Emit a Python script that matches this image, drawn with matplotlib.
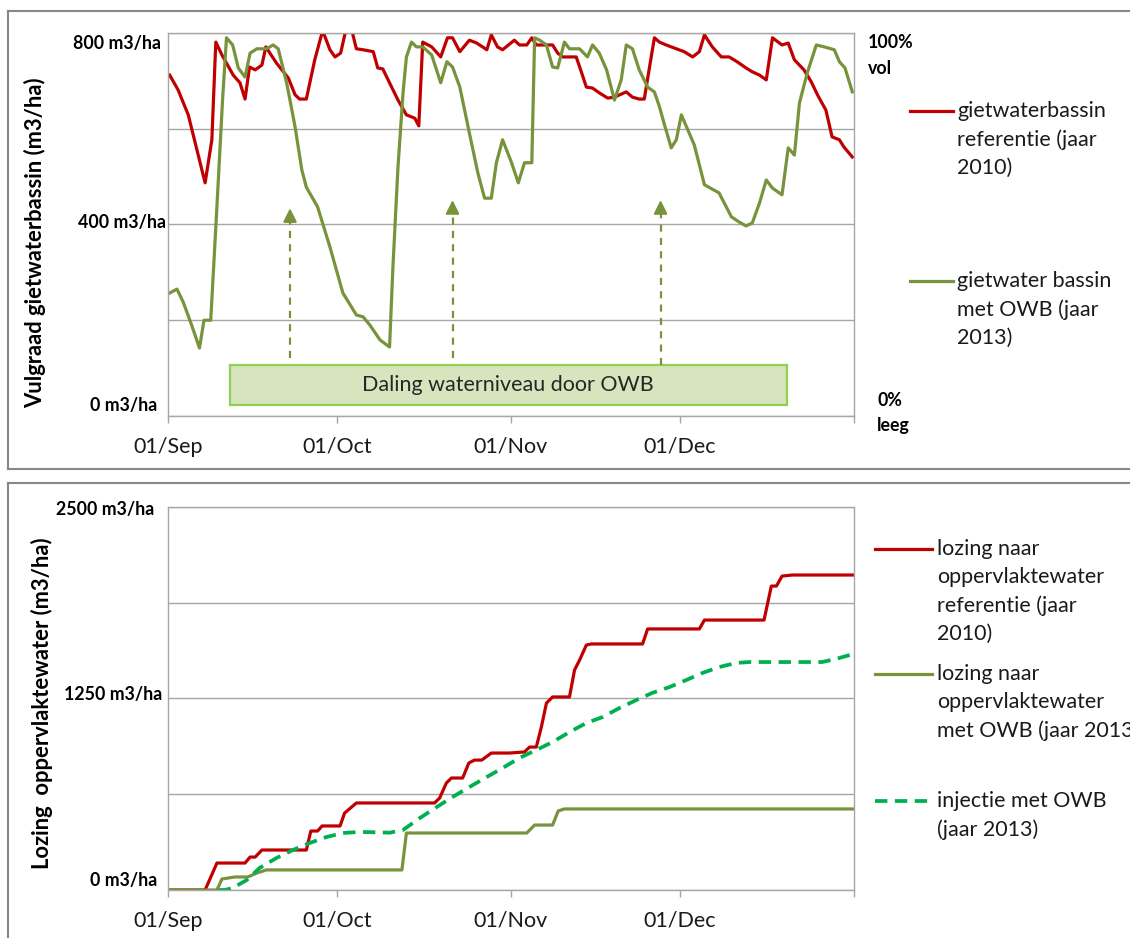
import numpy as np
import matplotlib
matplotlib.use('Agg')
import matplotlib.pyplot as plt
from matplotlib.lines import Line2D
from matplotlib.patches import Rectangle

plt.rcParams['font.family'] = ['Lato', 'DejaVu Sans']

# ---------------- data (day index since 01/Sep) ----------------
month_pos = [0, 30, 61, 91, 122]
month_labels = ['01/Sep', '01/Oct', '01/Nov', '01/Dec', '']

# top panel: vulgraad gietwaterbassin (m3/ha)
ref_days = [0.3, 1.8, 3.6, 6.6, 7.8, 8.5, 9.6, 11.6, 12.8, 13.7, 14.5, 15.5, 16.7, 17.4, 19.3,
            21.4, 22.6, 23.4, 24.6, 26.1, 27.5, 28.8, 29.7, 30.7, 31.7, 32.6, 33.5, 34.7, 36.5,
            37.3, 38.2, 39.4, 40.9, 42.4, 43.9, 44.6, 45.3, 46.9, 48.5, 49.7, 50.6, 51.9, 53.6,
            54.9, 56.7, 57.5, 58.6, 59.5, 61.6, 62.5, 63.8, 64.7, 65.5, 66.6, 68.4, 69.3, 70.2,
            72.6, 73.5, 74.4, 75.5, 76.7, 78.2, 79.4, 81.5, 82.6, 83.8, 84.7, 86.5, 87.4, 88.6,
            90.4, 91.8, 93.3, 94.5, 95.4, 96.8, 98.4, 99.8, 101.2, 102.8, 103.9, 105.2, 106.4,
            107.5, 109.2, 110.3, 111.4, 113.1, 114.4, 115.5, 117.0, 118.1, 119.4, 120.2, 121.7]
ref_vals = [712, 681, 629, 487, 577, 781, 754, 712, 696, 662, 729, 723, 733, 771, 737,
            706, 671, 662, 662, 744, 805, 765, 750, 758, 810, 810, 767, 765, 761,
            727, 725, 696, 660, 629, 622, 606, 781, 771, 750, 790, 790, 761, 785,
            779, 765, 796, 771, 765, 785, 775, 775, 790, 775, 775, 775, 758, 750,
            750, 719, 687, 685, 675, 664, 666, 677, 666, 662, 662, 790, 781, 775,
            767, 761, 750, 761, 796, 771, 750, 750, 740, 727, 719, 712, 702,
            790, 775, 779, 744, 723, 698, 671, 639, 583, 577, 562, 541]

owb_days = [0.3, 1.6, 2.7, 4.2, 5.6, 6.4, 7.6, 8.7, 9.7, 10.4, 11.5, 12.5, 13.7, 14.6, 15.8,
            17.5, 18.7, 19.6, 21.1, 22.6, 23.8, 24.6, 26.6, 28.8, 31.1, 33.5, 34.7, 35.9, 37.7,
            39.4, 40.0, 40.9, 41.8, 42.4, 43.3, 44.2, 45.3, 46.9, 48.5, 49.6, 50.6, 51.9, 53.6,
            55.1, 56.3, 57.5, 58.4, 59.5, 61.1, 62.3, 63.4, 64.7, 65.2, 66.1, 67.3, 68.4, 69.3,
            70.5, 71.4, 73.2, 74.6, 75.5, 76.7, 78.0, 79.4, 80.6, 81.5, 82.6, 83.8, 85.3, 86.5,
            87.4, 88.3, 89.5, 90.4, 91.3, 93.6, 95.4, 98.0, 100.2, 101.6, 102.8, 103.9, 105.2,
            106.4, 107.5, 109.2, 110.3, 111.4, 112.3, 113.7, 115.3, 116.7, 118.5, 119.4, 120.4,
            121.7]
owb_vals = [257, 265, 238, 190, 142, 200, 200, 437, 660, 790, 775, 727, 708, 758, 767,
            767, 775, 767, 696, 604, 514, 478, 437, 353, 257, 211, 207, 190, 159,
            144, 311, 520, 675, 750, 781, 771, 771, 754, 696, 740, 729, 687, 591,
            508, 455, 455, 529, 577, 529, 487, 529, 529, 790, 785, 775, 729, 727,
            781, 767, 767, 750, 775, 758, 723, 660, 702, 775, 767, 723, 687, 677,
            646, 608, 560, 577, 629, 566, 483, 466, 416, 405, 397, 403, 445,
            493, 476, 462, 560, 545, 654, 717, 775, 771, 765, 740, 727,
            677]

# bottom panel: cumulative lozing / injectie (m3/ha)
loz_ref_days = [0, 6.6, 8.7, 13.7, 14.6, 15.5, 16.7, 24.6, 25.4, 26.6, 27.4, 30.6, 31.4, 33.5,
                47.4, 48.3, 49.5, 50.4, 52.4, 53.5, 54.5, 55.8, 57.5, 60.7, 63.4, 64.3, 65.5,
                66.4, 67.3, 68.4, 71.4, 72.3, 73.2, 74.4, 75.3, 84.4, 85.3, 94.5, 95.4, 106.0,
                107.3, 108.2, 109.2, 111.0, 121.8]
loz_ref_vals = [0, 0, 176, 176, 215, 215, 261, 261, 385, 385, 418, 418, 502, 568,
                568, 600, 698, 731, 731, 829, 848, 848, 894, 894, 901, 933, 933,
                1064, 1220, 1260, 1260, 1436, 1501, 1599, 1606, 1606, 1704, 1704, 1762, 1762,
                1984, 1984, 2049, 2056, 2056]

loz_owb_days = [0, 8.7, 9.6, 11.9, 14.2, 15.8, 17.5, 41.6, 42.4, 63.8, 65.2, 68.4, 69.4, 70.5, 121.8]
loz_owb_vals = [0, 0, 72, 85, 85, 111, 131, 131, 372, 372, 424, 424, 516, 529, 529]

inj_days = [9.0, 10.1, 11.5, 14.0, 16.3, 19.3, 22.2, 25.2, 28.2, 31.1,
            34.1, 37.7, 39.4, 41.8, 44.8, 47.8, 50.6, 53.6, 56.7, 59.5,
            62.5, 65.5, 68.4, 71.4, 74.4, 77.3, 80.3, 83.3, 86.1, 89.2,
            92.2, 95.0, 98.0, 101.0, 103.4, 116.3, 118.8, 121.8]
inj_vals = [0, 0, 13, 65, 144, 209, 261, 307, 346, 372,
            379, 376, 374, 392, 470, 542, 607, 672, 738, 796,
            862, 914, 966, 1031, 1090, 1129, 1188, 1240, 1286, 1325,
            1371, 1416, 1455, 1482, 1488, 1488, 1508, 1540]

top_ticks = [0, 400, 800]
top_tick_labels = ['0 m3/ha', '400 m3/ha', '800 m3/ha']
bot_ticks = [0, 1250, 2500]
bot_tick_labels = ['0 m3/ha', '1250 m3/ha', '2500 m3/ha']

# ---------------- styling ----------------
RED = '#C00000'
OLIVE = '#77933C'
GREEN = '#00B050'
GRID = '#A6A6A6'
FRAME = '#878787'
TXT = '#1A1A1A'

W, H = 1130, 938
fig = plt.figure(figsize=(W / 100, H / 100), dpi=100)


def fx(px):
    return px / W


def fy(py):
    return 1 - py / H


ax1 = fig.add_axes([fx(168), fy(416), fx(854) - fx(168), fy(33) - fy(416)])
ax2 = fig.add_axes([fx(168), fy(890), fx(854) - fx(168), fy(507) - fy(890)])


def style(ax, ymax, ystep):
    ax.set_xlim(month_pos[0], month_pos[-1])
    ax.set_ylim(0, ymax)
    ax.set_yticks(np.arange(0, ymax + 1, ystep))
    ax.tick_params(axis='y', length=0, labelleft=False)
    ax.set_xticks(month_pos)
    ax.set_xticklabels(month_labels)
    ax.tick_params(axis='x', length=5, color=GRID, width=1, pad=10,
                   labelsize=15.5, labelcolor=TXT)
    ax.grid(axis='y', color=GRID, lw=1)
    ax.set_axisbelow(True)
    for s in ax.spines.values():
        s.set_color(GRID)
        s.set_linewidth(1)


style(ax1, 800, 200)
style(ax2, 2500, 625)

LW = 2.3
ax1.plot(ref_days, ref_vals, color=RED, lw=LW, solid_joinstyle='round')
ax1.plot(owb_days, owb_vals, color=OLIVE, lw=LW, solid_joinstyle='round')

ax2.plot(loz_ref_days, loz_ref_vals, color=RED, lw=LW, solid_joinstyle='round')
ax2.plot(loz_owb_days, loz_owb_vals, color=OLIVE, lw=LW, solid_joinstyle='round')
ax2.plot(inj_days, inj_vals, color=GREEN, lw=2.7, dashes=(3.3, 2.0))

# y tick labels (placed like the text boxes of the original)
top_off = {800: (-7, -10), 400: (-2, 2), 0: (-11, 11)}
bot_off = {2500: (-14, -2), 1250: (-6, 4), 0: (-11, 10)}
for ax, ticks, labels, offs in [(ax1, top_ticks, top_tick_labels, top_off),
                                (ax2, bot_ticks, bot_tick_labels, bot_off)]:
    for v, lab in zip(ticks, labels):
        ax.annotate(lab, xy=(0, v), xycoords=('axes fraction', 'data'),
                    xytext=offs[v], textcoords='offset pixels',
                    ha='right', va='center', fontsize=12.8, fontweight='bold',
                    color='black', annotation_clip=False)

# annotation box and arrows in top panel
ax1.add_patch(Rectangle((11.0, 23), 99.1, 83.5, fc='#D7E4BD', ec='#92D050', lw=1.6, zorder=3))
ax1.text(60.5, 65, 'Daling waterniveau door OWB', ha='center', va='center',
         fontsize=15.5, color='#262626', zorder=4)
for x, base, tip in [(21.7, 121, 434), (50.6, 121, 451), (87.6, 107, 451)]:
    ax1.plot([x, x], [base, tip - 20], color=OLIVE, lw=1.6, dashes=(3.2, 2.8), zorder=3)
    ax1.annotate('', xy=(x, tip), xytext=(x, tip - 26),
                 arrowprops=dict(arrowstyle='-|>,head_length=0.8,head_width=0.4',
                                 color=OLIVE, lw=1.6, shrinkA=0, shrinkB=0), zorder=3)

# axis titles
fig.text(fx(35), fy(243), 'Vulgraad gietwaterbassin (m3/ha)', rotation=90,
         ha='center', va='center', fontsize=15.8, fontweight='bold', color='black')
fig.text(fx(42), fy(703), 'Lozing  oppervlaktewater (m3/ha)', rotation=90,
         ha='center', va='center', fontsize=15.8, fontweight='bold', color='black')

# right side labels
for txt, x, y in [('100%', 868, 43), ('vol', 868, 68), ('0%', 877, 400), ('leeg', 877, 425)]:
    fig.text(fx(x), fy(y), txt, ha='left', va='center', fontsize=12.8,
             fontweight='bold', color='black')


def legend_entry(x0, x1, y, tx, lines, step=28.4, **kw):
    fig.add_artist(Line2D([fx(x0), fx(x1)], [fy(y), fy(y)], **kw))
    for i, ln in enumerate(lines):
        fig.text(fx(tx), fy(y + i * step), ln, ha='left', va='center',
                 fontsize=15.5, color=TXT)


legend_entry(910, 953, 111, 957, ['gietwaterbassin', 'referentie (jaar', '2010)'],
             color=RED, lw=LW)
legend_entry(910, 953, 281, 957, ['gietwater bassin', 'met OWB (jaar', '2013)'],
             color=OLIVE, lw=LW)
legend_entry(875, 932, 549, 937, ['lozing naar', 'oppervlaktewater', 'referentie (jaar', '2010)'],
             color=RED, lw=LW)
legend_entry(875, 932, 674, 937, ['lozing naar', 'oppervlaktewater', 'met OWB (jaar 2013)'],
             color=OLIVE, lw=LW)
legend_entry(875, 932, 801, 937, ['injectie met OWB', '(jaar 2013)'],
             color=GREEN, lw=2.7, dashes=(3.3, 2.0))

# panel frames
for xs, ys in [([7.5, 7.5], [11, 469]), ([7.5, 1135], [11, 11]), ([7.5, 1135], [469, 469]),
               ([7.5, 7.5], [483, 945]), ([7.5, 1135], [483, 483])]:
    fig.add_artist(Line2D([fx(v) for v in xs], [fy(v) for v in ys], color=FRAME, lw=1.5))

fig.savefig('out.png', dpi=100)
